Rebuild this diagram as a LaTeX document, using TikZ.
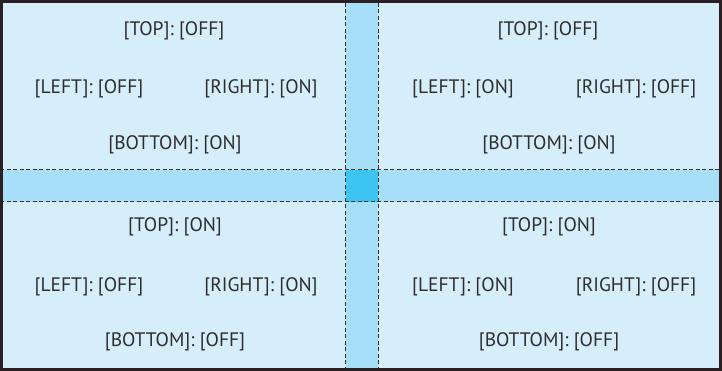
\documentclass[tikz,border=0pt]{standalone}
\usepackage{fontspec}
\setmainfont{PT Sans}
\definecolor{paneFill}{HTML}{D6EDFA}
\definecolor{bandFill}{HTML}{A8DFF8}
\definecolor{coreFill}{HTML}{3CC5F0}
\definecolor{frameCol}{HTML}{2B1F22}
\definecolor{dashCol}{HTML}{333333}
\definecolor{txtCol}{HTML}{2E2E2E}
\begin{document}
\begin{tikzpicture}[x=1pt,y=1pt,
  lbl/.style={text=txtCol,font=\fontsize{19.5}{22}\selectfont,inner sep=0pt,anchor=center},
  guide/.style={draw=dashCol,line width=1pt,dash pattern=on 4pt off 2.5pt}]
\useasboundingbox (0,0) rectangle (722,371);
% background panes
\fill[paneFill] (0,0) rectangle (722,371);
% bands
\fill[bandFill] (346,0) rectangle (378,371);
\fill[bandFill] (0,169) rectangle (722,201);
\fill[coreFill] (346,169) rectangle (378,201);
% dashed guides
\coordinate (vl1) at (345.5,0); \coordinate (vl2) at (345.5,371);
\coordinate (vr1) at (378,0); \coordinate (vr2) at (378,371);
\coordinate (ht1) at (0,201); \coordinate (ht2) at (722,201);
\coordinate (hb1) at (0,169); \coordinate (hb2) at (722,169);
\draw[guide] (vl1) -- (vl2);
\draw[guide] (vr1) -- (vr2);
\draw[guide] (ht1) -- (ht2);
\draw[guide] (hb1) -- (hb2);
% frame
\draw[frameCol,line width=3pt] (1.8,1.8) rectangle (720.2,369.5);
% top-left quadrant
\node[lbl] (tlT) at (174,340) {[TOP]: [OFF]};
\node[lbl] (tlL) at (89,282) {[LEFT]: [OFF]};
\node[lbl] (tlR) at (261,282) {[RIGHT]: [ON]};
\node[lbl] (tlB) at (175,226) {[BOTTOM]: [ON]};
% top-right quadrant
\node[lbl] (trT) at (548,340) {[TOP]: [OFF]};
\node[lbl] (trL) at (463,282) {[LEFT]: [ON]};
\node[lbl] (trR) at (636,282) {[RIGHT]: [OFF]};
\node[lbl] (trB) at (549,226) {[BOTTOM]: [ON]};
% bottom-left quadrant
\node[lbl] (blT) at (175,144) {[TOP]: [ON]};
\node[lbl] (blL) at (89,84) {[LEFT]: [OFF]};
\node[lbl] (blR) at (261,84) {[RIGHT]: [ON]};
\node[lbl] (blB) at (175,29) {[BOTTOM]: [OFF]};
% bottom-right quadrant
\node[lbl] (brT) at (549,144) {[TOP]: [ON]};
\node[lbl] (brL) at (463,84) {[LEFT]: [ON]};
\node[lbl] (brR) at (636,84) {[RIGHT]: [OFF]};
\node[lbl] (brB) at (549,29) {[BOTTOM]: [OFF]};
\end{tikzpicture}
\end{document}
